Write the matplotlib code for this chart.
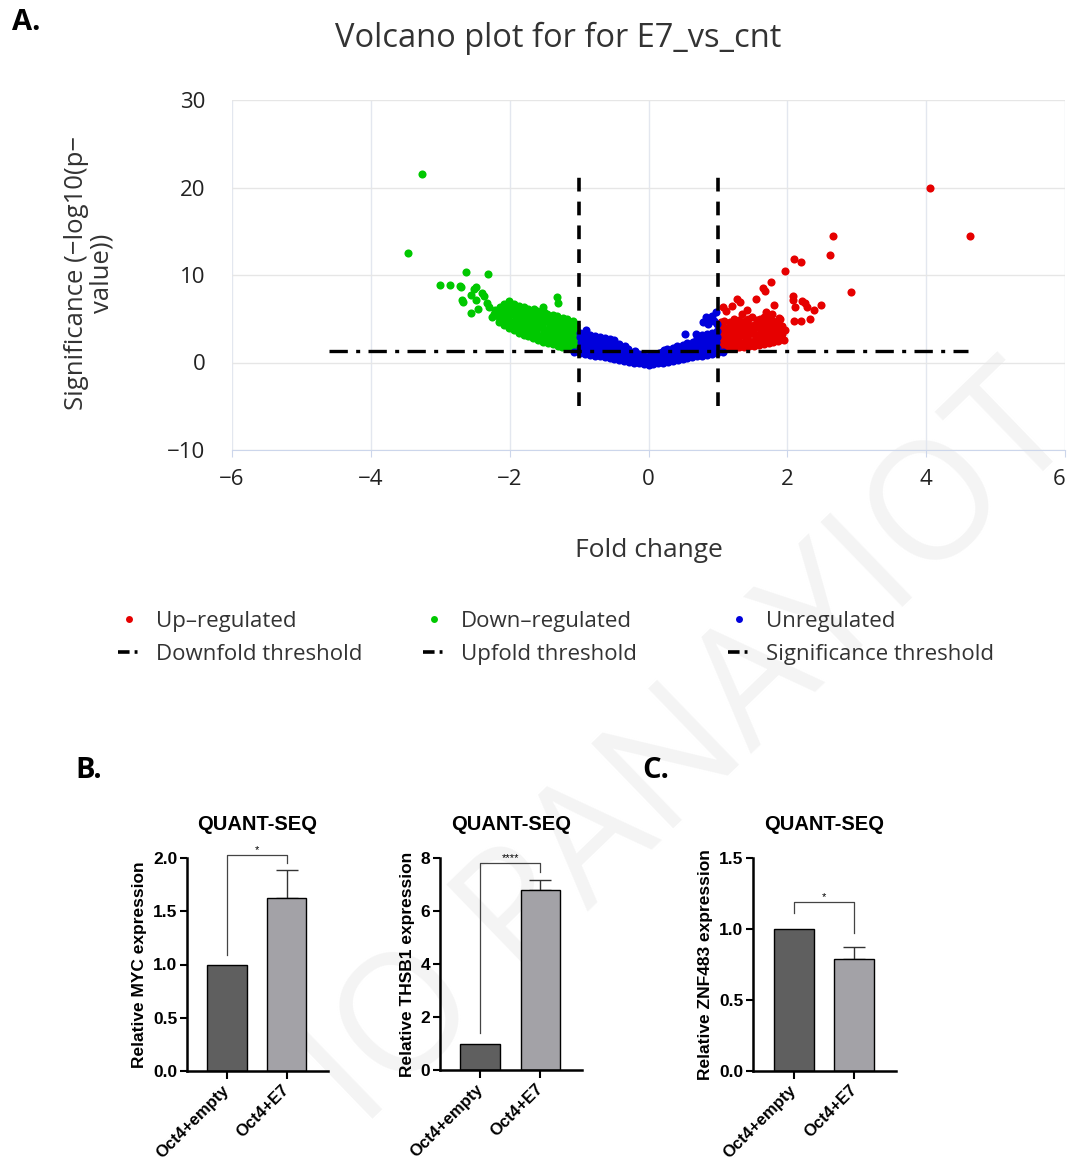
import numpy as np
import matplotlib.pyplot as plt
from matplotlib.lines import Line2D
from matplotlib.transforms import ScaledTranslation

plt.rcParams['font.family'] = ['Open Sans', 'DejaVu Sans']

# ---- volcano data (fold change, significance) ----
up_pts = [
    (4.06, 19.9), (4.63, 14.5), (2.66, 14.5), (2.61, 12.3), (2.10, 11.8), (2.20, 11.5),
    (1.96, 10.5), (1.76, 9.2), (1.65, 8.5), (1.68, 8.2), (2.91, 8.1), (1.55, 7.3),
    (1.28, 7.3), (1.32, 6.9), (2.08, 7.6), (2.08, 7.2), (2.21, 7.0), (2.26, 6.8),
    (2.48, 6.6), (2.11, 6.3), (2.29, 6.3), (2.38, 6.0), (2.10, 4.7), (2.20, 4.7),
    (2.32, 5.0), (1.81, 6.6), (1.78, 5.5), (1.88, 5.1), (1.93, 4.2), (1.97, 3.7),
    (1.95, 2.6), (1.90, 5.0), (1.35, 5.6), (1.21, 6.5), (1.08, 6.3), (1.23, 5.0),
    (1.69, 5.8), (1.66, 5.2), (1.49, 5.2), (1.57, 4.9), (1.12, 5.9), (1.42, 6.0),
    (1.03, 1.6), (1.03, 2.2), (1.03, 2.8), (1.04, 3.4), (1.03, 4.0), (1.04, 4.6),
    (1.10, 1.6), (1.10, 2.2), (1.11, 2.8), (1.10, 3.4), (1.10, 4.0), (1.09, 4.7),
    (1.17, 1.7), (1.17, 2.3), (1.18, 2.9), (1.17, 3.5), (1.16, 4.1), (1.18, 4.6),
    (1.24, 1.7), (1.24, 2.3), (1.25, 2.9), (1.24, 3.5), (1.23, 4.2), (1.25, 4.8),
    (1.31, 1.8), (1.31, 2.4), (1.30, 3.0), (1.32, 3.6), (1.31, 4.2), (1.30, 4.9),
    (1.38, 1.8), (1.38, 2.4), (1.39, 3.0), (1.38, 3.6), (1.37, 4.3), (1.39, 4.8),
    (1.45, 1.9), (1.45, 2.5), (1.44, 3.1), (1.46, 3.7), (1.45, 4.3), (1.44, 5.0),
    (1.52, 1.9), (1.52, 2.5), (1.53, 3.1), (1.51, 3.7), (1.52, 4.3),
    (1.59, 2.0), (1.59, 2.6), (1.58, 3.2), (1.60, 3.8), (1.59, 4.4), (1.61, 5.0),
    (1.66, 2.1), (1.66, 2.7), (1.67, 3.3), (1.65, 3.9), (1.66, 4.5),
    (1.73, 2.2), (1.73, 2.9), (1.72, 3.5), (1.74, 4.1), (1.73, 4.8), (1.75, 5.3),
    (1.80, 2.3), (1.80, 3.0), (1.81, 3.6), (1.79, 4.3), (1.80, 4.8),
    (1.87, 2.5), (1.87, 3.2), (1.88, 3.8), (1.86, 4.4), (1.93, 2.7), (1.92, 3.3),
]
down_pts = [
    (-3.26, 21.5), (-3.46, 12.5), (-2.63, 10.3), (-2.31, 10.1), (-3.01, 8.9), (-2.86, 8.9),
    (-2.72, 8.8), (-2.70, 8.6), (-2.48, 8.6), (-2.52, 8.4), (-2.56, 7.7), (-2.40, 7.9),
    (-2.37, 7.6), (-2.68, 7.2), (-2.67, 6.9), (-2.48, 7.1), (-2.56, 5.7), (-2.46, 6.1),
    (-2.32, 6.8), (-2.30, 6.4), (-1.32, 7.5), (-1.30, 6.8), (-1.52, 6.4), (-2.25, 5.2),
    (-2.21, 6.0), (-2.22, 5.6),
    (-2.15, 4.6), (-2.15, 5.2), (-2.16, 5.8), (-2.14, 6.4),
    (-2.08, 4.3), (-2.08, 4.9), (-2.07, 5.5), (-2.09, 6.1), (-2.08, 6.7),
    (-2.01, 4.0), (-2.01, 4.6), (-2.02, 5.2), (-2.00, 5.8), (-2.01, 6.4), (-2.01, 7.0),
    (-1.94, 3.7), (-1.94, 4.3), (-1.93, 4.9), (-1.95, 5.5), (-1.94, 6.1), (-1.94, 6.7),
    (-1.87, 3.4), (-1.87, 4.0), (-1.88, 4.6), (-1.86, 5.2), (-1.87, 5.8), (-1.87, 6.5),
    (-1.80, 3.2), (-1.80, 3.8), (-1.79, 4.4), (-1.81, 5.0), (-1.80, 5.6), (-1.80, 6.3),
    (-1.73, 3.0), (-1.73, 3.6), (-1.74, 4.2), (-1.72, 4.8), (-1.73, 5.4), (-1.73, 6.1),
    (-1.66, 2.8), (-1.66, 3.4), (-1.65, 4.0), (-1.67, 4.6), (-1.66, 5.2), (-1.66, 5.8), (-1.65, 6.1),
    (-1.59, 2.6), (-1.59, 3.2), (-1.60, 3.8), (-1.58, 4.4), (-1.59, 5.0), (-1.59, 5.6), (-1.60, 5.9),
    (-1.52, 2.4), (-1.52, 3.0), (-1.51, 3.6), (-1.53, 4.2), (-1.52, 4.8), (-1.52, 5.4), (-1.51, 5.8),
    (-1.45, 2.2), (-1.45, 2.8), (-1.46, 3.4), (-1.44, 4.0), (-1.45, 4.6), (-1.45, 5.2), (-1.46, 5.6),
    (-1.38, 2.1), (-1.38, 2.7), (-1.37, 3.3), (-1.39, 3.9), (-1.38, 4.5), (-1.38, 5.1), (-1.37, 5.4),
    (-1.31, 1.9), (-1.31, 2.5), (-1.32, 3.1), (-1.30, 3.7), (-1.31, 4.3), (-1.31, 4.9), (-1.32, 5.3),
    (-1.24, 1.8), (-1.24, 2.4), (-1.23, 3.0), (-1.25, 3.6), (-1.24, 4.2), (-1.24, 4.8), (-1.23, 5.1),
    (-1.17, 1.7), (-1.17, 2.3), (-1.18, 2.9), (-1.16, 3.5), (-1.17, 4.1), (-1.17, 4.6), (-1.18, 5.0),
    (-1.10, 1.6), (-1.10, 2.2), (-1.09, 2.8), (-1.11, 3.4), (-1.10, 4.0), (-1.10, 4.5), (-1.09, 4.8),
    (-1.04, 1.5), (-1.04, 2.1), (-1.05, 2.7), (-1.03, 3.3), (-1.04, 3.9), (-1.04, 4.3),
]
unreg_pts = [
    (0.53, 3.3), (0.69, 3.3), (0.78, 4.6), (0.83, 5.2), (0.88, 4.9), (0.92, 5.3),
    (0.86, 4.4), (0.97, 5.8), (0.95, 4.7), (-1.08, 1.2), (1.08, 1.2), (0.99, 4.4),
    (-0.98, 1.1), (-0.98, 1.7), (-0.97, 2.3), (-0.98, 2.9), (-0.99, 3.4),
    (-0.91, 1.0), (-0.91, 1.6), (-0.92, 2.2), (-0.90, 2.8), (-0.91, 3.3), (-0.90, 3.7),
    (-0.84, 0.9), (-0.84, 1.5), (-0.83, 2.1), (-0.85, 2.7), (-0.84, 3.2),
    (-0.77, 0.8), (-0.77, 1.4), (-0.78, 2.0), (-0.76, 2.5), (-0.77, 3.0),
    (-0.70, 0.7), (-0.70, 1.3), (-0.69, 1.9), (-0.71, 2.4), (-0.70, 2.9),
    (-0.63, 0.6), (-0.63, 1.2), (-0.64, 1.8), (-0.62, 2.3), (-0.63, 2.8),
    (-0.56, 0.5), (-0.56, 1.1), (-0.55, 1.7), (-0.57, 2.2), (-0.56, 2.7),
    (-0.49, 0.4), (-0.49, 1.0), (-0.50, 1.6), (-0.48, 2.1), (-0.49, 2.6),
    (-0.42, 0.3), (-0.42, 0.9), (-0.41, 1.5), (-0.43, 2.1),
    (-0.35, 0.2), (-0.35, 0.8), (-0.36, 1.4), (-0.34, 1.9),
    (-0.28, 0.1), (-0.28, 0.7), (-0.27, 1.2), (-0.29, 1.6),
    (-0.21, 0.0), (-0.21, 0.6), (-0.22, 1.1), (-0.20, 1.3),
    (-0.14, -0.1), (-0.14, 0.5), (-0.13, 1.0),
    (-0.07, -0.2), (-0.07, 0.4), (-0.08, 0.9),
    (0.00, -0.3), (0.00, 0.3), (0.01, 0.8),
    (0.07, -0.2), (0.07, 0.4), (0.06, 0.9),
    (0.14, -0.1), (0.14, 0.5), (0.15, 1.1),
    (0.21, 0.0), (0.21, 0.6), (0.20, 1.2), (0.22, 1.4),
    (0.28, 0.1), (0.28, 0.7), (0.29, 1.2), (0.27, 1.5),
    (0.35, 0.2), (0.35, 0.8), (0.34, 1.3), (0.36, 1.7),
    (0.42, 0.3), (0.42, 0.9), (0.43, 1.4), (0.41, 1.9),
    (0.49, 0.4), (0.49, 1.0), (0.48, 1.5), (0.50, 2.0),
    (0.56, 0.5), (0.56, 1.1), (0.57, 1.7), (0.55, 2.2),
    (0.63, 0.6), (0.63, 1.2), (0.62, 1.8), (0.64, 2.4),
    (0.70, 0.7), (0.70, 1.3), (0.71, 1.9), (0.69, 2.4), (0.70, 2.8),
    (0.77, 0.8), (0.77, 1.4), (0.76, 2.0), (0.78, 2.6), (0.77, 3.1),
    (0.84, 0.9), (0.84, 1.5), (0.85, 2.1), (0.83, 2.7), (0.84, 3.3),
    (0.91, 1.0), (0.91, 1.6), (0.90, 2.2), (0.92, 2.8), (0.91, 3.4),
    (0.98, 1.1), (0.98, 1.7), (0.97, 2.3), (0.99, 2.9), (0.98, 3.6),
]
fold_thresholds = [-1.0, 1.0]
fold_span = [-5, 22]
sig_threshold = 1.3
sig_span = [-4.6, 4.6]

# ---- quant-seq bars ----
groups = ['Oct4+empty', 'Oct4+E7']
myc_mean = [1.0, 1.62]
myc_err = [0.0, 0.27]
thsb1_mean = [1.0, 6.80]
thsb1_err = [0.0, 0.38]
znf483_mean = [1.0, 0.79]
znf483_err = [0.0, 0.08]

W, H = 1069, 1158


def box(l, t, r, b):
    return [l / W, 1 - b / H, (r - l) / W, (b - t) / H]


fig = plt.figure(figsize=(W / 100, H / 100), dpi=100)
fig.patch.set_facecolor('white')

# faint watermark behind everything
fig.text(0.647, 0.351, 'IO PANAYIOT', rotation=44, fontsize=118, color='#f4f4f4',
         ha='center', va='center', zorder=-5)

# ---------------- A: volcano ----------------
red, green, blue = '#e60000', '#00c800', '#0000dc'
ax = fig.add_axes(box(232, 100, 1065, 450))
ax.set_facecolor('none')
for pts, col in [(up_pts, red), (down_pts, green), (unreg_pts, blue)]:
    arr = np.array(pts)
    ax.scatter(arr[:, 0], arr[:, 1], s=34, color=col, linewidths=0, zorder=2)

for fx in fold_thresholds:
    ax.plot([fx, fx], fold_span, color='black', lw=2.6, dashes=(3.8, 2.8), zorder=3)
ax.plot(sig_span, [sig_threshold, sig_threshold], color='black', lw=2.4,
        dashes=(5.5, 2.5, 1.2, 2.5), zorder=3)

ax.set_xlim(-6, 6)
ax.set_ylim(-10, 30)
xt = list(range(-6, 7, 2))
yt = list(range(-10, 31, 10))
ax.set_xticks(xt, [str(v).replace('-', '\u2212') for v in xt])
ax.set_yticks(yt, [str(v).replace('-', '\u2212') for v in yt])
ax.get_xticklabels()[-1].set_horizontalalignment('right')
ax.xaxis.grid(True, color='#e3e7ef', lw=1)
ax.yaxis.grid(True, color='#e6e6e6', lw=1)
ax.set_axisbelow(True)
for s in ['top', 'right', 'left']:
    ax.spines[s].set_visible(False)
ax.spines['bottom'].set_color('#ccd6eb')
ax.tick_params(axis='x', length=5, color='#ccd6eb', labelsize=16, labelcolor='#222222', pad=9)
ax.tick_params(axis='y', length=0, labelsize=16, labelcolor='#222222', pad=19)

fig.text(558 / W, 1 - 38 / H, 'Volcano plot for for E7_vs_cnt', ha='center', va='center',
         fontsize=23.5, color='#333333')
fig.text(89 / W, 1 - 273 / H, 'Significance (\u2212log10(p\u2212\nvalue))', rotation=90,
         ha='center', va='center', fontsize=18.5, color='#333333', multialignment='center',
         linespacing=1.05)
fig.text(649 / W, 1 - 550 / H, 'Fold change', ha='center', va='center', fontsize=19,
         color='#333333')

h_up = Line2D([], [], ls='none', marker='o', markersize=5, markerfacecolor=red, markeredgewidth=0)
h_down = Line2D([], [], ls='none', marker='o', markersize=5, markerfacecolor=green, markeredgewidth=0)
h_un = Line2D([], [], ls='none', marker='o', markersize=5, markerfacecolor=blue, markeredgewidth=0)
h_line = Line2D([], [], color='black', lw=2.6, dashes=(3.2, 1.4, 0.8, 8))
legend_cols = [
    (118, [h_up, h_line], ['Up\u2013regulated', 'Downfold threshold']),
    (423, [h_down, h_line], ['Down\u2013regulated', 'Upfold threshold']),
    (728, [h_un, h_line], ['Unregulated', 'Significance threshold']),
]
for xpx, hs, labs in legend_cols:
    fig.legend(hs, labs, loc='upper left', bbox_to_anchor=(xpx / W, 1 - 611 / H),
               frameon=False, fontsize=16, labelcolor='#333333', handlelength=0.95,
               handletextpad=0.75, borderpad=0, borderaxespad=0, labelspacing=0.55)

# ---------------- B / C: bar panels ----------------
BF = 'Liberation Sans'


def bar_panel(rect, means, errs, ylabel, ymax, yticks, ylabels, bracket, stars):
    bx = fig.add_axes(rect)
    bx.set_facecolor('none')
    x = np.arange(len(groups))
    bx.bar(x, means, width=0.66, color=['#5f5f5f', '#a3a2a7'], edgecolor='black',
           linewidth=1.0, zorder=2)
    bx.errorbar(x[1:], means[1:], yerr=[[0], [errs[1]]], fmt='none', ecolor='#333333',
                elinewidth=1, capsize=8, capthick=1, zorder=1)
    b0, top, b1 = bracket
    bx.plot([0, 0, 1, 1], [b0, top, top, b1], color='#444444', lw=0.9, clip_on=False)
    bx.text(0.5, top, stars, ha='center', va='bottom', fontsize=8, family=BF)
    bx.set_xlim(-0.67, 1.69)
    bx.set_ylim(0, ymax)
    bx.set_yticks(yticks, ylabels, family=BF, fontweight='bold', fontsize=12.5)
    bx.set_xticks(x, groups, family=BF, fontweight='bold', fontsize=12, rotation=45,
                  ha='right', va='center', rotation_mode='anchor')
    for lbl in bx.get_xticklabels():
        lbl.set_transform(lbl.get_transform() + ScaledTranslation(8 / 72, 0, fig.dpi_scale_trans))
    for s in ['top', 'right']:
        bx.spines[s].set_visible(False)
    for s in ['left', 'bottom']:
        bx.spines[s].set_linewidth(1.8)
    bx.tick_params(axis='y', length=5, width=1.5, pad=2)
    bx.tick_params(axis='x', length=6, width=1.5, pad=6)
    bx.set_ylabel(ylabel, family=BF, fontweight='bold', fontsize=12.5, labelpad=4)
    bx.set_title('QUANT-SEQ', family=BF, fontweight='bold', fontsize=14.5, pad=20)
    return bx


bar_panel(box(187, 858, 328, 1071), myc_mean, myc_err, 'Relative MYC expression', 2.0,
          [0, 0.5, 1.0, 1.5, 2.0], ['0.0', '0.5', '1.0', '1.5', '2.0'], (1.09, 2.03, 1.95), '*')
bar_panel(box(440, 858, 582, 1070), thsb1_mean, thsb1_err, 'Relative THSB1 expression', 8,
          [0, 2, 4, 6, 8], ['0', '2', '4', '6', '8'], (1.4, 7.81, 7.46), '****')
bar_panel(box(753, 858, 896, 1071), znf483_mean, znf483_err, 'Relative ZNF483 expression', 1.5,
          [0, 0.5, 1.0, 1.5], ['0.0', '0.5', '1.0', '1.5'], (1.11, 1.19, 0.97), '*')

fig.text(12 / W, 1 - 22 / H, 'A.', fontsize=21, fontweight='bold', ha='left', va='center')
fig.text(75 / W, 1 - 770 / H, 'B.', fontsize=21, fontweight='bold', ha='left', va='center')
fig.text(642 / W, 1 - 770 / H, 'C.', fontsize=21, fontweight='bold', ha='left', va='center')

fig.savefig('out.png', dpi=100)
